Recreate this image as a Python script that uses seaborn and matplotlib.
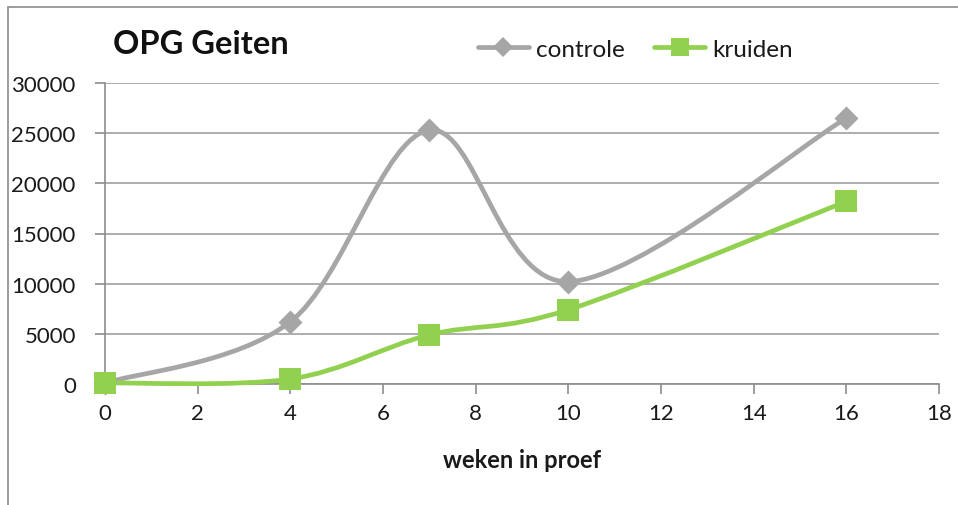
import numpy as np
import pandas as pd
import matplotlib
matplotlib.use("Agg")
import matplotlib.pyplot as plt
from matplotlib.path import Path
from matplotlib.patches import PathPatch, Rectangle
from matplotlib.lines import Line2D
import seaborn as sns

weeks = [0, 4, 7, 10, 16]
controle = [100, 6200, 25300, 10200, 26500]
kruiden = [100, 500, 4900, 7400, 18200]
series_names = ["controle", "kruiden"]
colors = {"controle": "#A6A6A6", "kruiden": "#92D050"}
markers = {"controle": "D", "kruiden": "s"}
marker_area = {"controle": 150, "kruiden": 240}
title = "OPG Geiten"
xlabel = "weken in proef"

sns.set_theme(style="white")
FONT = ["Lato", "DejaVu Sans"]
plt.rcParams["font.family"] = FONT

df = pd.DataFrame({"week": weeks * 2,
                   "value": controle + kruiden,
                   "serie": ["controle"] * len(weeks) + ["kruiden"] * len(weeks)})

fig = plt.figure(figsize=(9.58, 5.06), dpi=100)
ax = fig.add_axes([105 / 958, 1 - 385 / 506, (939 - 105) / 958, (385 - 84) / 506])

# outer chart border (left/top visible)
fig.patches.append(Rectangle((8 / 958, -0.1), 1.2, 1 - 8 / 506 + 0.1, transform=fig.transFigure,
                             fill=False, edgecolor="#8C8C8C", linewidth=1.2, zorder=0))


def smooth_path(xs, ys):
    # Excel-style smoothed line: cubic Bezier segments with Catmull-Rom control points
    pts = np.column_stack([xs, ys]).astype(float)
    n = len(pts)
    verts = [pts[0]]
    codes = [Path.MOVETO]
    for i in range(n - 1):
        p0 = pts[i - 1] if i > 0 else pts[i]
        p1 = pts[i]
        p2 = pts[i + 1]
        p3 = pts[i + 2] if i + 2 < n else pts[i + 1]
        c1 = p1 + (p2 - p0) / 6.0
        c2 = p2 - (p3 - p1) / 6.0
        verts += [c1, c2, p2]
        codes += [Path.CURVE4] * 3
    return Path(verts, codes)


for name in series_names:
    sub = df[df["serie"] == name]
    path = smooth_path(sub["week"].values, sub["value"].values)
    ax.add_patch(PathPatch(path, facecolor="none", edgecolor=colors[name], lw=3.4,
                           capstyle="round", joinstyle="round", zorder=3, clip_on=False))
    sns.scatterplot(data=sub, x="week", y="value", color=colors[name],
                    marker=markers[name], s=marker_area[name], linewidth=0,
                    ax=ax, legend=False, zorder=4, clip_on=False)

ax.set_xlim(0, 18)
ax.set_ylim(0, 30000)
ax.set_xticks(range(0, 19, 2))
ax.set_yticks(range(0, 30001, 5000))
ax.yaxis.grid(True, color="#A0A0A0", lw=1.2)
ax.xaxis.grid(False)
for s in ["top", "right"]:
    ax.spines[s].set_visible(False)
for s in ["left", "bottom"]:
    ax.spines[s].set_color("#8C8C8C")
    ax.spines[s].set_linewidth(1.2)
ax.tick_params(axis="both", which="both", direction="out", length=7, width=1.2,
               color="#8C8C8C", labelsize=16, labelcolor="#1a1a1a", pad=7,
               bottom=True, left=True)
ax.tick_params(axis="y", pad=14)
ax.set_xlabel(xlabel, fontsize=17, fontweight="bold", color="#1a1a1a", labelpad=18)
ax.set_ylabel("")

fig.text(113 / 958, 1 - 45 / 506, title, fontsize=23.5, fontweight="bold",
         color="#111111", va="center", ha="left")

handles = [Line2D([], [], color=colors["controle"], lw=3.4, marker="D", markersize=10,
                  markeredgewidth=0),
           Line2D([], [], color=colors["kruiden"], lw=3.4, marker="s", markersize=13,
                  markeredgewidth=0)]
fig.legend(handles, series_names, loc="center left", bbox_to_anchor=(456 / 958, 1 - 50 / 506),
           ncol=2, frameon=False, fontsize=17.5, handlelength=2.1, handletextpad=0.3,
           columnspacing=1.2, labelcolor="#1a1a1a")

fig.savefig("out.png", dpi=100)
